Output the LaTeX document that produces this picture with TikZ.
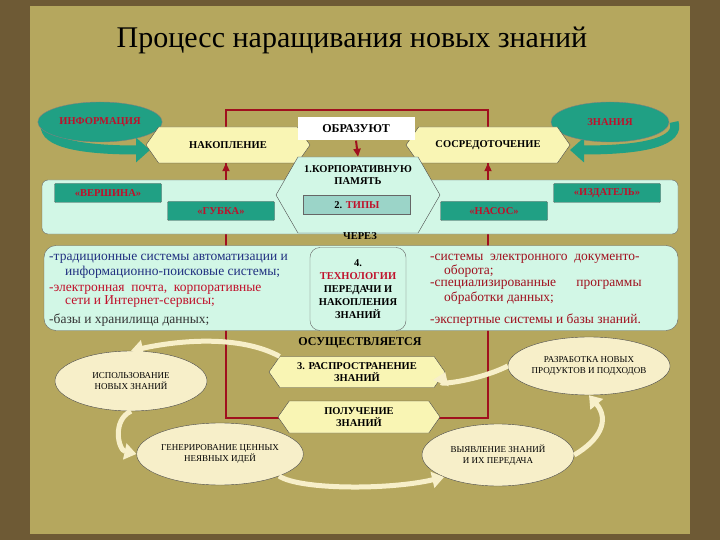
\documentclass[tikz,border=0pt]{standalone}
\usepackage{fontspec}
\setmainfont{Liberation Serif}
\usetikzlibrary{shapes.symbols,shapes.geometric,arrows.meta}
\definecolor{bgc}{HTML}{B5A75E}
\definecolor{frame}{HTML}{6E5A35}
\definecolor{redl}{HTML}{A0101E}
\definecolor{tealD}{HTML}{20A084}
\definecolor{tealL}{HTML}{D2F7E6}
\definecolor{yel}{HTML}{F9F5B4}
\definecolor{cream}{HTML}{F7EFC9}
\definecolor{txtred}{HTML}{C0102A}
\definecolor{txtblue}{HTML}{203080}
\tikzset{
 lbl/.style={font=\bfseries\fontsize{10.5}{12}\selectfont,align=center},
 hexa/.style={shape=signal,signal to=east and west,draw=black!70,fill=yel,lbl,inner sep=1pt,signal pointer angle=110},
 tbox/.style={draw=black!60,fill=tealD,text=txtred,lbl,minimum width=107pt,minimum height=19pt,rounded corners=1pt},
 ell/.style={ellipse,draw=black!70,fill=cream,font=\fontsize{9}{11}\selectfont,align=center,inner sep=0pt},
 cyc/.style={draw=black!50,line width=5pt,cream,-{Triangle[length=12pt,width=16pt]}},
 tarr/.style={tealD,line width=9pt,-{Triangle[length=14pt,width=24pt]}},
 rl/.style={redl,line width=2.2pt},
 li/.style={anchor=west,font=\fontsize{13.5}{14}\selectfont,inner sep=0pt}
}
\begin{document}
\begin{tikzpicture}[x=1pt,y=-1pt]
\fill[frame] (0,0) rectangle (720,540);
\fill[bgc] (30,6) rectangle (690,534);
\useasboundingbox (0,0) rectangle (720,540);
\node[font=\fontsize{30}{32}\selectfont] (title) at (352,40) {Процесс наращивания новых знаний};
\coordinate (tl) at (226,110); \coordinate (tr) at (488,110);
\coordinate (bl) at (226,418); \coordinate (br) at (488,418);
\draw[rl] (bl) -- (tl) -- (tr) -- (br) -- cycle;
\coordinate (ia) at (46,122); \coordinate (ib) at (150,150);
\draw[tarr] (ia) .. controls (40,140) and (70,150) .. (ib);
\coordinate (za) at (674,122); \coordinate (zb) at (570,150);
\draw[tarr] (za) .. controls (680,140) and (650,150) .. (zb);
\node[ellipse,fill=tealD,draw=black!50,minimum width=118pt,minimum height=40pt,text=txtred,lbl] (inf) at (100,122) {ИНФОРМАЦИЯ};
\node[ellipse,fill=tealD,draw=black!50,minimum width=118pt,minimum height=40pt,text=txtred,lbl] (zn) at (610,122) {ЗНАНИЯ};
\node[draw=black!60,fill=tealL,rounded corners=6pt,minimum width=636pt,minimum height=54pt] (band1) at (360,207) {};
\node[draw=black!60,fill=tealL,rounded corners=12pt,minimum width=634pt,minimum height=85pt] (band2) at (361,288) {};
\node[hexa,minimum width=164pt,minimum height=36pt] (nak) at (228,145) {НАКОПЛЕНИЕ};
\node[hexa,minimum width=164pt,minimum height=36pt] (sos) at (488,145) {СОСРЕДОТОЧЕНИЕ};
\node[fill=white,lbl,font=\bfseries\fontsize{12}{13}\selectfont,minimum width=117pt,minimum height=23pt] (obr) at (356,129) {ОБРАЗУЮТ};
\node[shape=signal,signal to=east and west,signal pointer angle=120,draw=black!70,fill=tealL,minimum width=164pt,minimum height=76pt] (korp) at (358,195) {};
\node[lbl,anchor=north] (korpt) at (358,162) {1.КОРПОРАТИВНУЮ\\ПАМЯТЬ};
\node[draw=black!60,fill=tealD!45,lbl,minimum width=107pt,minimum height=19pt] (tipy) at (357,205) {2. \textcolor{txtred}{ТИПЫ}};
\draw[redl,line width=2pt,-{Triangle[length=8pt,width=7pt]}] (obr.south) -- (korp.north);
\coordinate (ul) at (226,180); \coordinate (ur) at (488,180);
\draw[redl,line width=2pt,-{Triangle[length=8pt,width=7pt]}] (ul) -- (nak.south -| ul);
\draw[redl,line width=2pt,-{Triangle[length=8pt,width=7pt]}] (ur) -- (sos.south -| ur);
\node[tbox] (ver) at (108,193) {«ВЕРШИНА»};
\node[tbox] (gub) at (221,211) {«ГУБКА»};
\node[tbox] (nas) at (494,211) {«НАСОС»};
\node[tbox] (izd) at (607,193) {«ИЗДАТЕЛЬ»};
\node[lbl] (cherez) at (360,236) {ЧЕРЕЗ};
\node[draw=black!60,fill=tealL,rounded corners=10pt,minimum width=96pt,minimum height=83pt,lbl,font=\bfseries\fontsize{10.5}{13}\selectfont] (tech) at (358,289) {4.\\\textcolor{txtred}{ТЕХНОЛОГИИ}\\ПЕРЕДАЧИ И\\НАКОПЛЕНИЯ\\ЗНАНИЙ};
\node[li,text=txtblue] (l1) at (49,259) {-традиционные системы автоматизации и};
\node[li,text=txtblue] (l2) at (65,272) {информационно-поисковые системы;};
\node[li,text=txtred] (l3) at (49,290) {-электронная\ \ почта,\ \ корпоративные};
\node[li,text=txtred] (l4) at (65,302) {сети и Интернет-сервисы;};
\node[li,text=black!80] (l5) at (49,320) {-базы и хранилища данных;};
\node[li,text=redl] (r1) at (430,259) {-системы\ \ электронного\ \ документо-};
\node[li,text=redl] (r2) at (444,271) {оборота;};
\node[li,text=redl] (r3) at (430,285) {-специализированные\ \ \ \ \ \ программы};
\node[li,text=redl] (r4) at (444,298) {обработки данных;};
\node[li,text=redl] (r5) at (430,320) {-экспертные системы и базы знаний.};
\node[lbl,font=\bfseries\fontsize{12}{13}\selectfont] (osu) at (360,343) {ОСУЩЕСТВЛЯЕТСЯ};
\node[hexa,minimum width=176pt,minimum height=31pt,font=\bfseries\fontsize{10.5}{12}\selectfont] (ras) at (357,372) {3. РАСПРОСТРАНЕНИЕ\\ЗНАНИЙ};
\node[hexa,minimum width=162pt,minimum height=32pt,font=\bfseries\fontsize{10.5}{12}\selectfont] (pol) at (359,417) {ПОЛУЧЕНИЕ\\ЗНАНИЙ};
\node[ell,minimum width=152pt,minimum height=60pt] (isp) at (131,381) {ИСПОЛЬЗОВАНИЕ\\НОВЫХ ЗНАНИЙ};
\node[ell,minimum width=154pt,minimum height=58pt] (raz) at (589,366) {РАЗРАБОТКА НОВЫХ\\ПРОДУКТОВ И ПОДХОДОВ};
\node[ell,minimum width=152pt,minimum height=62pt] (gen) at (220,454) {ГЕНЕРИРОВАНИЕ ЦЕННЫХ\\НЕЯВНЫХ ИДЕЙ};
\node[ell,minimum width=152pt,minimum height=62pt] (vyy) at (498,455) {ВЫЯВЛЕНИЕ ЗНАНИЙ\\И ИХ ПЕРЕДАЧА};
\draw[cyc] (ras.north west) .. controls (240,335) and (180,340) .. (isp.north);
\draw[cyc] (raz.west) .. controls (480,380) and (440,385) .. (ras.east);
\draw[cyc] (isp.south) .. controls (112,420) and (118,450) .. (gen.west);
\draw[cyc] (gen.south east) .. controls (300,490) and (390,490) .. (vyy.south west);
\draw[cyc] (vyy.east) .. controls (600,440) and (610,420) .. (raz.south);
\end{tikzpicture}
\end{document}
